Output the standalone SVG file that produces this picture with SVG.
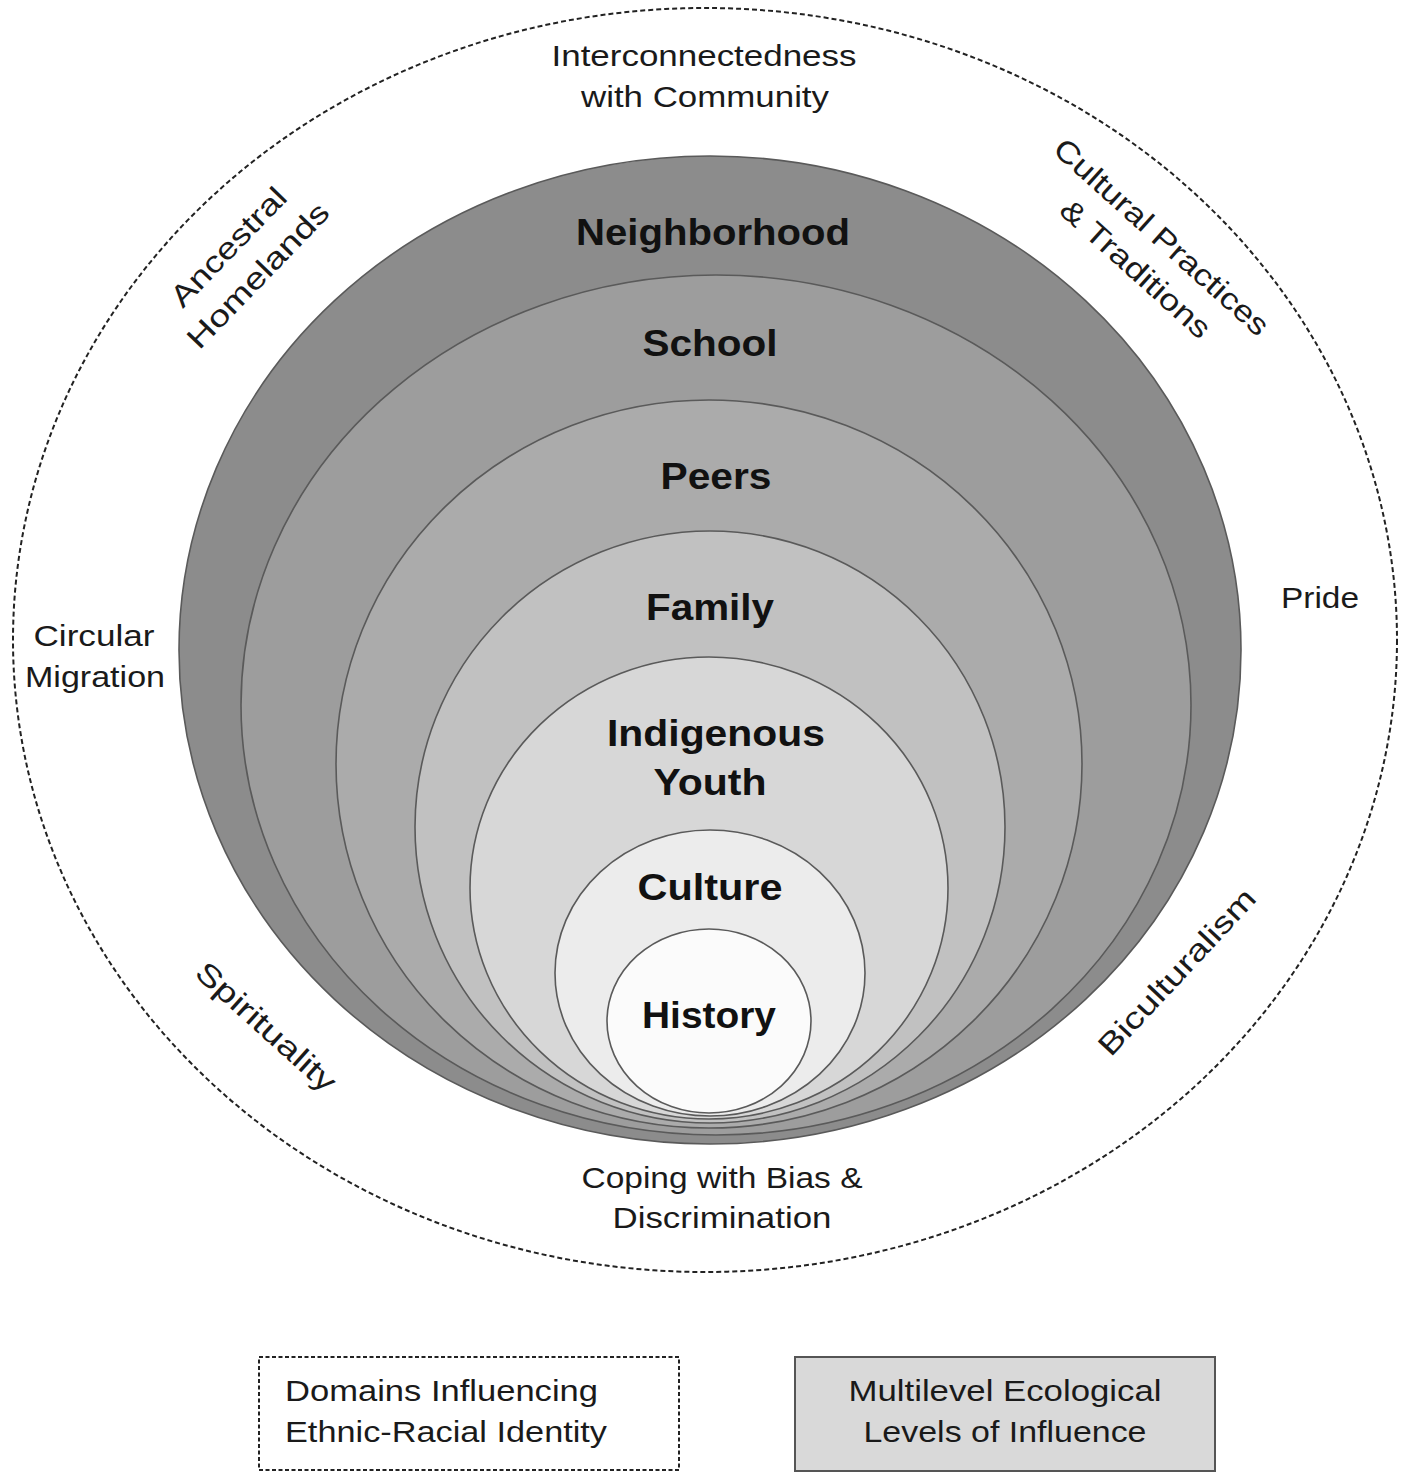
<svg xmlns="http://www.w3.org/2000/svg" width="1418" height="1479" viewBox="0 0 1418 1479">
<style>
.ring{stroke:#5a5a5a;stroke-width:1.6}
.lvl{font-family:"Liberation Sans",Arial,sans-serif;font-weight:bold;font-size:37px;fill:#111;text-anchor:middle}
.dom{font-family:"Liberation Sans",Arial,sans-serif;font-size:30px;fill:#1a1a1a;text-anchor:middle}
.leg{font-family:"Liberation Sans",Arial,sans-serif;font-size:30px;fill:#1a1a1a}
</style>
<rect width="1418" height="1479" fill="#ffffff"/>
<g id="domains-boundary">
<ellipse cx="705" cy="640" rx="692" ry="632" fill="none" stroke="#222" stroke-width="2" stroke-dasharray="5 3"/>
</g>
<g id="neighborhood">
<ellipse class="ring" cx="710" cy="650" rx="531" ry="494" fill="#8c8c8c"/>
<text class="lvl" x="713" y="245" textLength="274" lengthAdjust="spacingAndGlyphs">Neighborhood</text>
</g>
<g id="school">
<ellipse class="ring" cx="716" cy="705" rx="475" ry="430" fill="#9d9d9d"/>
<text class="lvl" x="710" y="356" textLength="135" lengthAdjust="spacingAndGlyphs">School</text>
</g>
<g id="peers">
<ellipse class="ring" cx="709" cy="764" rx="373" ry="364" fill="#ababab"/>
<text class="lvl" x="716" y="489" textLength="111" lengthAdjust="spacingAndGlyphs">Peers</text>
</g>
<g id="family">
<ellipse class="ring" cx="710" cy="827" rx="295" ry="296" fill="#c1c1c1"/>
<text class="lvl" x="710" y="620" textLength="128" lengthAdjust="spacingAndGlyphs">Family</text>
</g>
<g id="indigenous-youth">
<ellipse class="ring" cx="709" cy="888" rx="239" ry="231" fill="#d7d7d7"/>
<text class="lvl" x="716" y="746" textLength="218" lengthAdjust="spacingAndGlyphs">Indigenous</text>
<text class="lvl" x="710" y="795" textLength="113" lengthAdjust="spacingAndGlyphs">Youth</text>
</g>
<g id="culture">
<ellipse class="ring" cx="710" cy="973" rx="155" ry="143" fill="#ececec"/>
<text class="lvl" x="710" y="900" textLength="145" lengthAdjust="spacingAndGlyphs">Culture</text>
</g>
<g id="history">
<ellipse class="ring" cx="709" cy="1021" rx="102" ry="92" fill="#fbfbfb"/>
<text class="lvl" x="709" y="1028" textLength="134" lengthAdjust="spacingAndGlyphs">History</text>
</g>
<g id="domain-interconnectedness">
<text class="dom" x="704" y="66" textLength="305" lengthAdjust="spacingAndGlyphs">Interconnectedness</text>
<text class="dom" x="705" y="107" textLength="248" lengthAdjust="spacingAndGlyphs">with Community</text>
</g>
<g id="domain-ancestral" transform="translate(243,261) rotate(-46)">
<text class="dom" x="0" y="-10" textLength="153" lengthAdjust="spacingAndGlyphs">Ancestral</text>
<text class="dom" x="0" y="31" textLength="190" lengthAdjust="spacingAndGlyphs">Homelands</text>
</g>
<g id="domain-cultural" transform="translate(1148,252) rotate(42)">
<text class="dom" x="0" y="-10" textLength="278" lengthAdjust="spacingAndGlyphs">Cultural Practices</text>
<text class="dom" x="2" y="31" textLength="191" lengthAdjust="spacingAndGlyphs">&amp; Traditions</text>
</g>
<g id="domain-circular">
<text class="dom" x="94" y="646" textLength="121" lengthAdjust="spacingAndGlyphs">Circular</text>
<text class="dom" x="95" y="687" textLength="140" lengthAdjust="spacingAndGlyphs">Migration</text>
</g>
<g id="domain-pride">
<text class="dom" x="1320" y="608" textLength="78" lengthAdjust="spacingAndGlyphs">Pride</text>
</g>
<g id="domain-spirituality" transform="translate(266,1027) rotate(42)">
<text class="dom" x="0" y="10" textLength="178" lengthAdjust="spacingAndGlyphs">Spirituality</text>
</g>
<g id="domain-biculturalism" transform="translate(1177,972) rotate(-47)">
<text class="dom" x="0" y="10" textLength="216" lengthAdjust="spacingAndGlyphs">Biculturalism</text>
</g>
<g id="domain-coping">
<text class="dom" x="722" y="1188" textLength="281" lengthAdjust="spacingAndGlyphs">Coping with Bias &amp;</text>
<text class="dom" x="722" y="1228" textLength="219" lengthAdjust="spacingAndGlyphs">Discrimination</text>
</g>
<g id="legend-domains">
<rect x="259" y="1357" width="420" height="113" fill="#ffffff" stroke="#222" stroke-width="2" stroke-dasharray="4 2.5"/>
<text class="leg" x="285" y="1401" textLength="313" lengthAdjust="spacingAndGlyphs">Domains Influencing</text>
<text class="leg" x="285" y="1442" textLength="322" lengthAdjust="spacingAndGlyphs">Ethnic-Racial Identity</text>
</g>
<g id="legend-levels">
<rect x="795" y="1357" width="420" height="114" fill="#d9d9d9" stroke="#555" stroke-width="2"/>
<text class="dom" x="1005" y="1401" textLength="313" lengthAdjust="spacingAndGlyphs">Multilevel Ecological</text>
<text class="dom" x="1005" y="1442" textLength="283" lengthAdjust="spacingAndGlyphs">Levels of Influence</text>
</g>
<g id="connectors"></g>
</svg>
